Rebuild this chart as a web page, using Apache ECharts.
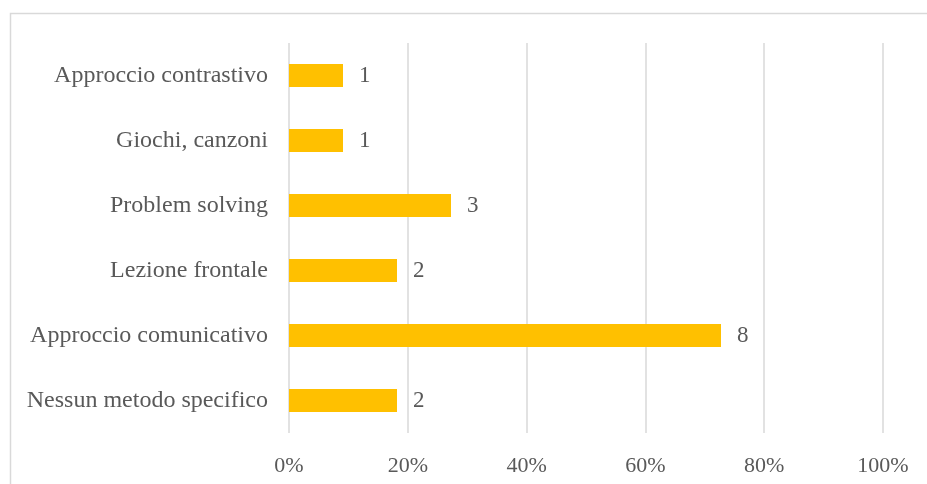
<!DOCTYPE html>
<html>
<head>
<meta charset="utf-8">
<script src="https://cdn.jsdelivr.net/npm/echarts@6/dist/echarts.min.js"></script>
<style>
  html, body { margin: 0; padding: 0; background: #fff; }
  #chart { width: 927px; height: 484px; }
</style>
</head>
<body>
<div id="chart"></div>
<script>
// Teaching methods and number of teachers naming each one
const categories = [
  'Approccio contrastivo',
  'Giochi, canzoni',
  'Problem solving',
  'Lezione frontale',
  'Approccio comunicativo',
  'Nessun metodo specifico'
];
const counts = [1, 1, 3, 2, 8, 2];
const respondents = 11; // several methods could be named by one teacher
const tickValues = [0, 0.2, 0.4, 0.6, 0.8, 1];
const tickLabels = ['0%', '20%', '40%', '60%', '80%', '100%'];

// Bars show the share of respondents choosing each method
const shares = counts.map(c => c / respondents);

const textColor = '#595959';
const lineColor = '#D9D9D9';
const font = '"Liberation Serif", "Times New Roman", serif';

const chart = echarts.init(document.getElementById('chart'), null, { renderer: 'canvas' });
chart.setOption({
  animation: false,
  backgroundColor: '#ffffff',
  graphic: [{
    type: 'rect',
    shape: { x: 10.5, y: 13.5, width: 940, height: 480 },
    style: { fill: 'none', stroke: lineColor, lineWidth: 1.5 },
    silent: true
  }],
  grid: { left: 289, right: 44, top: 43, bottom: 51, containLabel: false },
  xAxis: {
    type: 'value',
    min: 0,
    max: 1,
    interval: 0.2,
    axisLine: { show: false },
    axisTick: { show: false },
    splitLine: { show: true, lineStyle: { color: lineColor, width: 1.5 } },
    axisLabel: {
      margin: 22,
      color: textColor,
      fontFamily: font,
      fontSize: 22,
      formatter: v => {
        const i = tickValues.findIndex(t => Math.abs(t - v) < 1e-9);
        return i >= 0 ? tickLabels[i] : '';
      }
    }
  },
  yAxis: {
    type: 'category',
    inverse: true,
    data: categories,
    axisLine: { show: false },
    axisTick: { show: false },
    axisLabel: {
      margin: 21,
      color: textColor,
      fontFamily: font,
      fontSize: 24
    }
  },
  series: [{
    type: 'bar',
    data: shares,
    barWidth: 23,
    itemStyle: { color: '#FFC000' },
    label: {
      show: true,
      position: 'right',
      distance: 16,
      color: textColor,
      fontFamily: font,
      fontSize: 23,
      formatter: p => String(counts[p.dataIndex])
    }
  }]
});
</script>
</body>
</html>
